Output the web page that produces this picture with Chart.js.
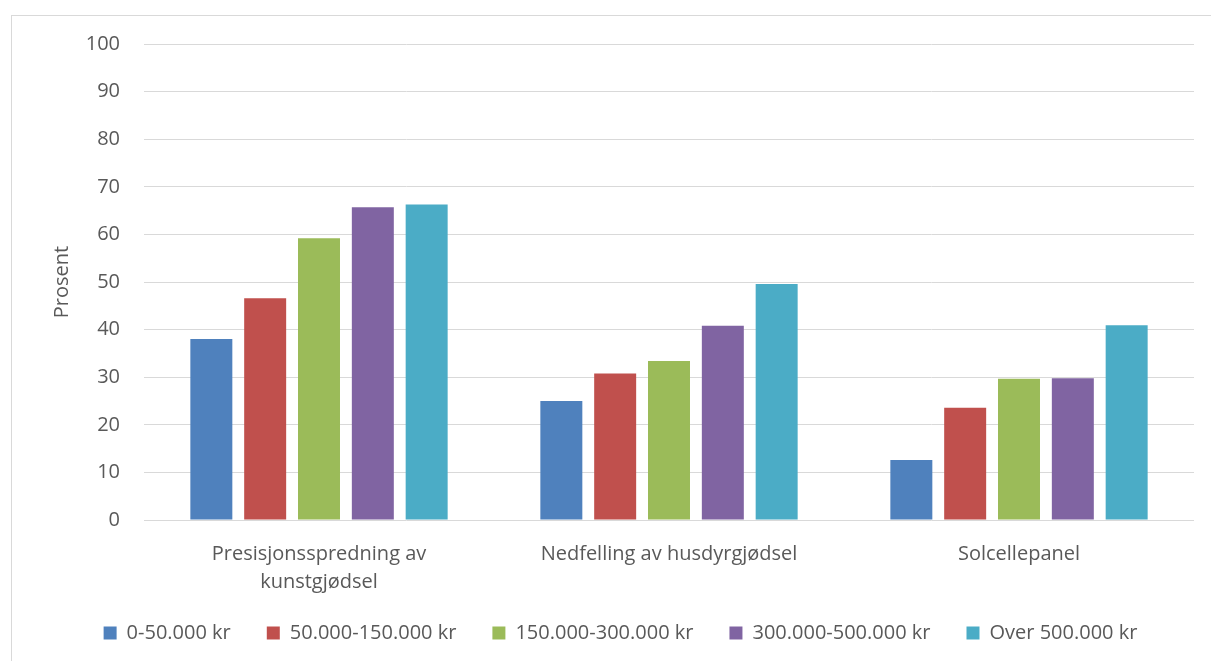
<!DOCTYPE html>
<html lang="no">
<head>
<meta charset="utf-8">
<title>Prosent etter investeringsbeløp</title>
<script src="https://cdn.jsdelivr.net/npm/chart.js@4/dist/chart.umd.min.js"></script>
<style>
    html, body { margin: 0; padding: 0; background: #fff; }
    .frame {
        position: absolute;
        left: 11px; top: 15px;
        width: 1220px; height: 660px;
        border-left: 1px solid #d9d9d9;
        border-top: 1px solid #d9d9d9;
    }
    .wrap { position: absolute; left: 0; top: 0; width: 1211px; height: 661px; }
</style>
</head>
<body>
<div class="frame"></div>
<div class="wrap"><canvas id="chart" width="1211" height="661"></canvas></div>
<script>
// Categories and series
const categories = [
    ['Presisjonsspredning av', 'kunstgjødsel'],
    'Nedfelling av husdyrgjødsel',
    'Solcellepanel'
];
const seriesNames = ['0-50.000 kr', '50.000-150.000 kr', '150.000-300.000 kr', '300.000-500.000 kr', 'Over 500.000 kr'];
const band0to50 = [38.0, 25.0, 12.6];
const band50to150 = [46.6, 30.8, 23.6];
const band150to300 = [59.2, 33.4, 29.7];
const band300to500 = [65.7, 40.8, 29.8];
const bandOver500 = [66.3, 49.6, 40.9];
const yTicks = [0, 10, 20, 30, 40, 50, 60, 70, 80, 90, 100];
const yTitle = 'Prosent';

const colors = ['#4F81BD', '#C0504D', '#9BBB59', '#8064A2', '#4BACC6'];
const textColor = '#595959';
const fontFamily = '"Open Sans", "Liberation Sans", sans-serif';

const seriesValues = [band0to50, band50to150, band150to300, band300to500, bandOver500];

// keep the legend small so the plot keeps its height, then nudge it up a bit
const legendPlacePlugin = {
    id: 'legendPlace',
    beforeUpdate(chart) {
        const legend = chart.legend;
        if (legend && !legend._patched) {
            const fit = legend.fit;
            legend.fit = function() {
                fit.call(this);
                this.height = 61;
            };
            legend._patched = true;
        }
    },
    afterLayout(chart) {
        const legend = chart.legend;
        if (legend) {
            legend.top = 587;
            legend.bottom = legend.top + legend.height;
        }
    }
};

new Chart(document.getElementById('chart').getContext('2d'), {
    type: 'bar',
    data: {
        labels: categories,
        datasets: seriesValues.map((vals, i) => ({
            label: seriesNames[i],
            data: vals,
            backgroundColor: colors[i],
            borderWidth: 0,
            categoryPercentage: 0.769,
            barPercentage: 0.78
        }))
    },
    options: {
        responsive: false,
        animation: false,
        layout: { padding: { left: 47, right: 17, top: 44, bottom: 0 } },
        plugins: {
            legend: {
                position: 'bottom',
                labels: {
                    boxWidth: 13,
                    boxHeight: 13,
                    padding: 36,
                    color: textColor,
                    font: { family: fontFamily, size: 20 }
                }
            },
            tooltip: { enabled: false }
        },
        scales: {
            x: {
                grid: { display: false },
                border: { display: false },
                ticks: {
                    color: textColor,
                    padding: 12,
                    maxRotation: 0,
                    font: { family: fontFamily, size: 20, lineHeight: 1.4 }
                },
                afterFit(scale) { scale.height = 80; }
            },
            y: {
                min: 0,
                max: 100,
                afterBuildTicks(scale) { scale.ticks = yTicks.map(v => ({ value: v })); },
                grid: { color: '#d9d9d9', lineWidth: 1, drawTicks: false },
                border: { display: false },
                ticks: {
                    color: textColor,
                    padding: 24,
                    font: { family: fontFamily, size: 20 }
                },
                title: {
                    display: true,
                    text: yTitle,
                    color: textColor,
                    padding: { top: 3, bottom: 0 },
                    font: { family: fontFamily, size: 20 }
                },
                afterFit(scale) { scale.width = 97; }
            }
        }
    },
    plugins: [legendPlacePlugin]
});
</script>
</body>
</html>
